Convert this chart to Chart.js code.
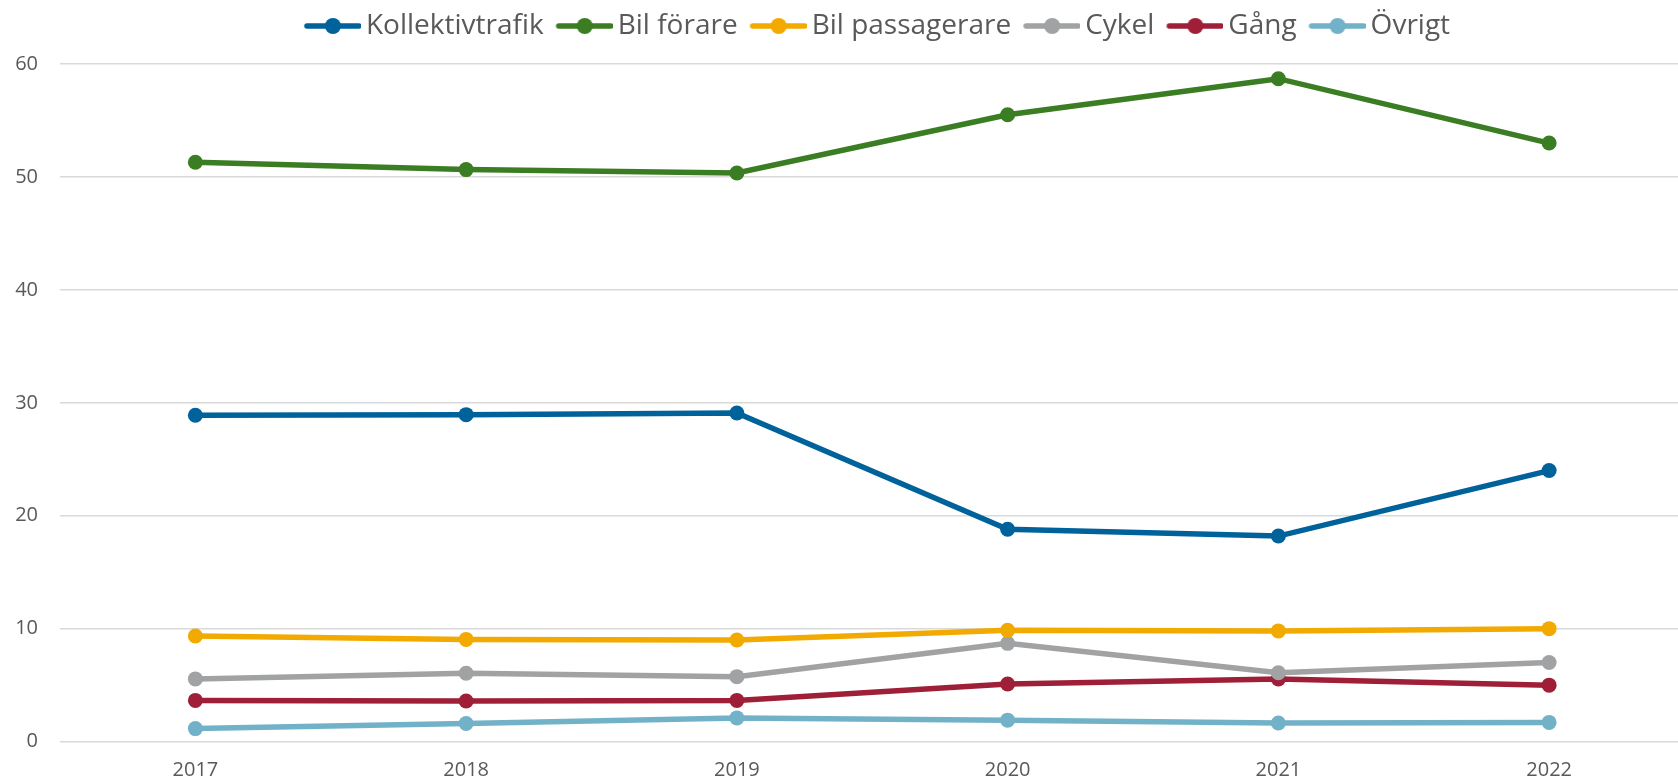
<!DOCTYPE html>
<html>
<head>
    <title>Resor per färdsätt 2017-2022</title>
    <style>
        html, body { margin: 0; padding: 0; background: #ffffff; overflow: hidden; }
        /* a bit wider than the window so the last category gets the same room as in the source */
        #chartBox { width: 1692px; height: 784px; }
    </style>
    <script src="https://cdn.jsdelivr.net/npm/chart.js"></script>
</head>
<body>
    <div id="chartBox">
        <canvas id="lineChart"></canvas>
    </div>

    <script>
        const years = ['2017', '2018', '2019', '2020', '2021', '2022'];
        const kollektivtrafik = [28.9, 28.95, 29.1, 18.8, 18.2, 24.0];
        const bilForare = [51.3, 50.65, 50.35, 55.5, 58.7, 53.0];
        const bilPassagerare = [9.35, 9.05, 9.0, 9.85, 9.8, 10.0];
        const cykel = [5.55, 6.05, 5.75, 8.7, 6.1, 7.0];
        const gang = [3.65, 3.6, 3.65, 5.1, 5.55, 5.0];
        const ovrigt = [1.15, 1.6, 2.1, 1.9, 1.65, 1.7];

        const tickColor = '#595959';
        const fontName = '"Open Sans", sans-serif';

        // line-with-dot marker for the legend, left part left empty on purpose
        function legendMarker(color) {
            const c = document.createElement('canvas');
            c.width = 68;
            c.height = 18;
            const g = c.getContext('2d');
            g.strokeStyle = color;
            g.lineWidth = 5.5;
            g.lineCap = 'round';
            g.beginPath();
            g.moveTo(14, 9);
            g.lineTo(66, 9);
            g.stroke();
            g.fillStyle = color;
            g.beginPath();
            g.arc(40, 9, 8, 0, Math.PI * 2);
            g.fill();
            return c;
        }

        function series(label, values, color) {
            return {
                label: label,
                data: values,
                borderColor: color,
                backgroundColor: color,
                borderWidth: 5.5,
                pointRadius: 7.5,
                pointHoverRadius: 7.5,
                pointBorderWidth: 0,
                tension: 0,
                marker: legendMarker(color)
            };
        }

        const legendTweak = {
            id: 'legendTweak',
            beforeInit(chart) {
                const lg = chart.legend;
                const origFit = lg.fit;
                lg.fit = function () {
                    origFit.call(lg);
                    lg.height += 16;
                };
                const origDraw = lg.draw;
                lg.draw = function () {
                    const ctx = chart.ctx;
                    ctx.save();
                    ctx.translate(30, 2);
                    origDraw.call(lg);
                    ctx.restore();
                };
            }
        };

        new Chart(document.getElementById('lineChart').getContext('2d'), {
            type: 'line',
            data: {
                labels: years,
                datasets: [
                    series('Kollektivtrafik', kollektivtrafik, '#00629b'),
                    series('Bil förare', bilForare, '#3a7d22'),
                    series('Bil passagerare', bilPassagerare, '#f2aa00'),
                    series('Cykel', cykel, '#a0a2a3'),
                    series('Gång', gang, '#9e1f37'),
                    series('Övrigt', ovrigt, '#72b2c8')
                ]
            },
            options: {
                responsive: true,
                maintainAspectRatio: false,
                animation: false,
                layout: {
                    padding: { left: 0, right: 0, top: 0, bottom: 0 }
                },
                plugins: {
                    tooltip: { enabled: false },
                    legend: {
                        position: 'top',
                        labels: {
                            usePointStyle: true,
                            pointStyleWidth: 50,
                            padding: 10,
                            color: tickColor,
                            font: { family: fontName, size: 28 },
                            generateLabels(chart) {
                                return chart.data.datasets.map((ds, i) => ({
                                    text: ds.label,
                                    fillStyle: ds.borderColor,
                                    strokeStyle: ds.borderColor,
                                    lineWidth: 0,
                                    pointStyle: ds.marker,
                                    fontColor: tickColor,
                                    hidden: !chart.isDatasetVisible(i),
                                    datasetIndex: i
                                }));
                            }
                        }
                    }
                },
                scales: {
                    x: {
                        offset: true,
                        grid: { display: false, drawTicks: false },
                        border: { display: false },
                        ticks: {
                            color: tickColor,
                            padding: 17,
                            maxRotation: 0,
                            font: { family: fontName, size: 20 }
                        },
                        afterFit(scale) { scale.height = 42.4; }
                    },
                    y: {
                        min: 0,
                        max: 60,
                        ticks: {
                            stepSize: 10,
                            color: tickColor,
                            padding: 22,
                            font: { family: fontName, size: 20 }
                        },
                        grid: { color: '#d9d9d9', lineWidth: 1.5, drawTicks: false },
                        border: { display: false },
                        afterFit(scale) { scale.width = 60; }
                    }
                }
            },
            plugins: [legendTweak]
        });
    </script>
</body>
</html>
